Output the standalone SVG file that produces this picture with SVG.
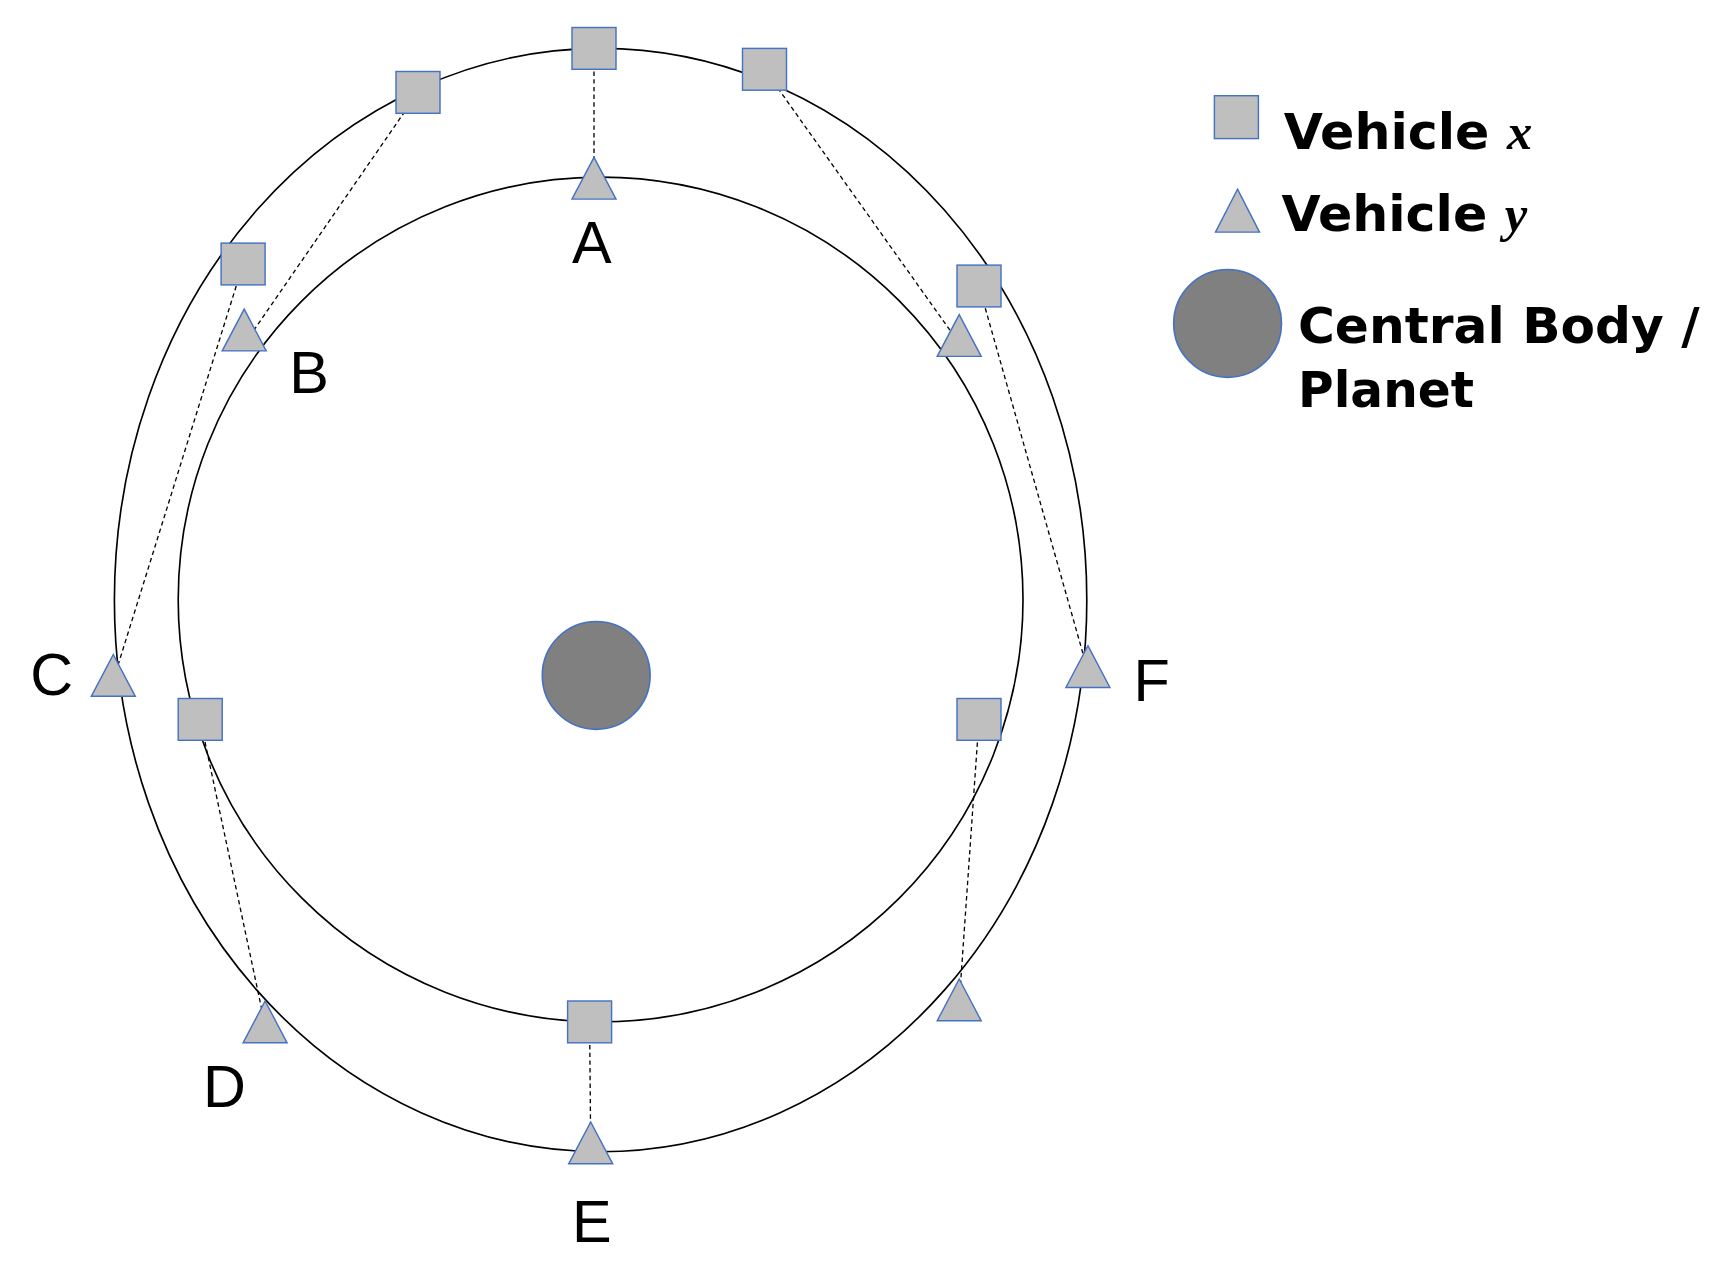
<svg xmlns="http://www.w3.org/2000/svg" width="1717" height="1264" viewBox="0 0 1717 1264">
<style>
.orb{fill:none;stroke:#000;stroke-width:1.5}
.sq{fill:#bfbfbf;stroke:#4472c4;stroke-width:1.3}
.tr{fill:#bfbfbf;stroke:#4472c4;stroke-width:1.3}
.dash{stroke:#000;stroke-width:1.2;stroke-dasharray:4 3;fill:none}
.lbl{font-family:"Liberation Sans",Arial,sans-serif;font-size:54px;fill:#000}
.leg{font-family:"DejaVu Sans","Liberation Sans",sans-serif;font-weight:bold;font-size:46px;fill:#000}
.it{font-family:"Liberation Serif",serif;font-style:italic;font-weight:bold}
</style>
<defs>
<rect id="s" x="-20" y="-19" width="40" height="38" class="sq"/>
<polygon id="t" points="0,-20 20,18 -20,18" class="tr"/>
</defs>
<rect width="1717" height="1264" fill="#fff"/>
<g transform="scale(1.1)">
<g id="orbits">
<circle class="orb" cx="546" cy="545" r="384"/>
<ellipse class="orb" cx="546" cy="545.5" rx="442" ry="501.5"/>
</g>
<g id="planet"><circle cx="542" cy="614" r="49" fill="#808080" stroke="#4472c4" stroke-width="1.5"/></g>
<g id="connectors">
<line class="dash" x1="540" y1="44" x2="540" y2="160"/>
<line class="dash" x1="380" y1="84" x2="224" y2="310"/>
<line class="dash" x1="221" y1="240" x2="105" y2="612"/>
<line class="dash" x1="695" y1="63" x2="872" y2="312"/>
<line class="dash" x1="890" y1="260" x2="989" y2="610"/>
<line class="dash" x1="182" y1="654" x2="241" y2="932"/>
<line class="dash" x1="890" y1="654" x2="872" y2="912"/>
<line class="dash" x1="536" y1="929" x2="537" y2="1042"/>
</g>
<g id="vehicle-x">
<use href="#s" x="540" y="44"/><use href="#s" x="380" y="84"/><use href="#s" x="695" y="63"/>
<use href="#s" x="221" y="240"/><use href="#s" x="890" y="260"/><use href="#s" x="182" y="654"/>
<use href="#s" x="890" y="654"/><use href="#s" x="536" y="929"/>
</g>
<g id="vehicle-y">
<use href="#t" x="540" y="163"/><use href="#t" x="222" y="301"/><use href="#t" x="872" y="306"/>
<use href="#t" x="103" y="615"/><use href="#t" x="989" y="607"/><use href="#t" x="241" y="930"/>
<use href="#t" x="872" y="910"/><use href="#t" x="537" y="1040"/>
</g>
<g id="labels">
<text class="lbl" x="538" y="239" text-anchor="middle">A</text>
<text class="lbl" x="281" y="357" text-anchor="middle">B</text>
<text class="lbl" x="47" y="632" text-anchor="middle">C</text>
<text class="lbl" x="204" y="1006" text-anchor="middle">D</text>
<text class="lbl" x="538" y="1129" text-anchor="middle">E</text>
<text class="lbl" x="1047" y="637" text-anchor="middle">F</text>
</g>
<g id="legend">
<rect x="1104" y="87" width="40" height="39" class="sq"/>
<text class="leg" x="1167" y="135">Vehicle <tspan class="it">x</tspan></text>
<polygon points="1125,172 1145,211 1105,211" class="tr"/>
<text class="leg" x="1165" y="210">Vehicle <tspan class="it">y</tspan></text>
<circle cx="1116" cy="294" r="49" fill="#808080" stroke="#4472c4" stroke-width="1.5"/>
<text class="leg" x="1180" y="312" textLength="365" lengthAdjust="spacingAndGlyphs">Central Body /</text>
<text class="leg" x="1180" y="370" textLength="160" lengthAdjust="spacingAndGlyphs">Planet</text>
</g>
</g>
</svg>
